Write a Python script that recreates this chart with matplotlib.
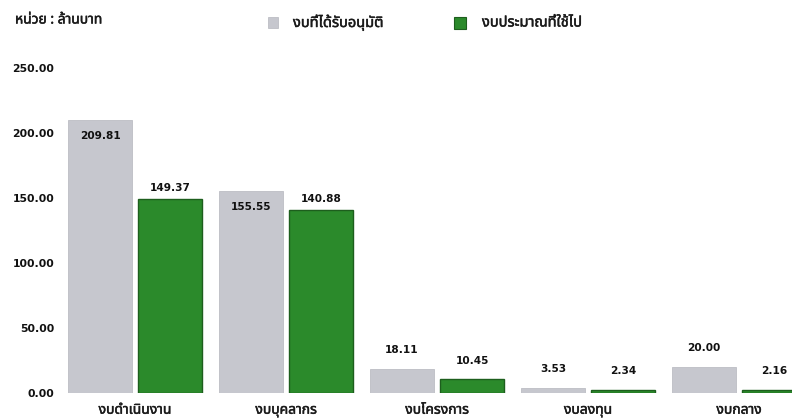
import matplotlib
matplotlib.use("Agg")
import matplotlib.pyplot as plt
import matplotlib.patheffects as pe
import numpy as np
from matplotlib.patches import Rectangle

categories = ["งบดำเนินงาน", "งบบุคลากร", "งบโครงการ", "งบลงทุน", "งบกลาง"]
approved = [209.81, 155.55, 18.11, 3.53, 20.00]
spent = [149.37, 140.88, 10.45, 2.34, 2.16]
series_names = ["งบที่ได้รับอนุมัติ", "งบประมาณที่ใช้ไป"]
yticks = [0, 50, 100, 150, 200, 250]
unit_label = "หน่วย : ล้านบาท"

plt.rcParams['font.family'] = ['Noto Sans Thai', 'Noto Sans', 'DejaVu Sans']

gray = "#c6c7ce"
green = "#2b8a2b"
green_edge = "#1d5e1d"
num_font = dict(family=['DejaVu Sans'], fontweight="bold", color="#111111")
txt_col = "#1a1a1a"
thick = [pe.withStroke(linewidth=0.35, foreground=txt_col)]

fig = plt.figure(figsize=(7.92, 4.19), dpi=100)
ax = fig.add_axes([60/792, 26/419, 732/792, 325/419])

x = np.arange(len(categories))
w = 0.425
off = 0.232
ax.bar(x - off, approved, width=w, color=gray, edgecolor="#bcbdc4", linewidth=0.6, zorder=2)
ax.bar(x + off, spent, width=w, color=green, edgecolor=green_edge, linewidth=1.0, zorder=2)

for xi, v in zip(x - off, approved):
    if v > 100:
        ax.text(xi, v - 12.5, f"{v:.2f}", ha="center", va="center", fontsize=7.6, **num_font)
    else:
        ax.text(xi, v + 15, f"{v:.2f}", ha="center", va="center", fontsize=7.6, **num_font)
for xi, v in zip(x + off, spent):
    dy = 8.5 if v > 100 else 14.5
    ax.text(xi, v + dy, f"{v:.2f}", ha="center", va="center", fontsize=7.6, **num_font)

ax.set_xlim(-0.497, 4.351)
ax.set_ylim(0, 250)
ax.set_yticks(yticks)
ax.set_yticklabels([f"{t:.2f}" for t in yticks], fontsize=7.8, **num_font)
ax.set_xticks(x)
ax.set_xticklabels(categories, fontsize=10, color=txt_col, path_effects=thick)
ax.tick_params(axis="y", length=0, pad=4)
ax.tick_params(axis="x", length=0, pad=7)
for s in ax.spines.values():
    s.set_visible(False)

fig.text(15/792, 1 - 20/419, unit_label, fontsize=10, va="center", ha="left", color=txt_col, path_effects=thick)

# legend
fig.patches.append(Rectangle((268/792, 1 - 28/419), 10/792, 11/419, transform=fig.transFigure,
                             facecolor=gray, edgecolor="#b5b6bd", linewidth=0.5))
fig.text(293/792, 1 - 23/419, series_names[0], fontsize=10.5, va="center", ha="left", color=txt_col, path_effects=thick)
fig.patches.append(Rectangle((454/792, 1 - 29/419), 12/792, 12/419, transform=fig.transFigure,
                             facecolor=green, edgecolor=green_edge, linewidth=0.8))
fig.text(482/792, 1 - 23/419, series_names[1], fontsize=10.5, va="center", ha="left", color=txt_col, path_effects=thick)

fig.savefig("out.png", dpi=100)
